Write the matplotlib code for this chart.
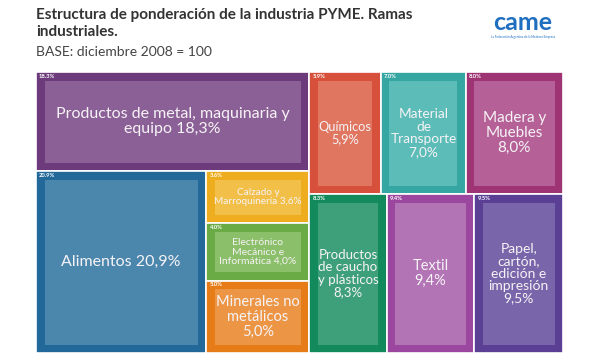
import matplotlib
matplotlib.use("Agg")
import matplotlib.pyplot as plt
from matplotlib.patches import Rectangle


# ─── Data ──────────────────────────────────────────────────────────────────────

RAMAS = [
    "Productos de metal, maquinaria y\nequipo",
    "Alimentos",
    "Calzado y\nMarroquinería",
    "Electrónico\nMecánico e\nInformática",
    "Minerales no\nmetálicos",
    "Químicos",
    "Material\nde\nTransporte",
    "Madera y\nMuebles",
    "Productos\nde caucho\ny plásticos",
    "Textil",
    "Papel,\ncartón,\nedición e\nimpresión",
]
PONDERACION = [18.3, 20.9, 3.6, 4.0, 5.0, 5.9, 7.0, 8.0, 8.3, 9.4, 9.5]

# how the blocks are nested (indices into RAMAS)
ARBOL = [[0, [1, [2, 3, 4]]], [[5, 6, 7], [8, 9, 10]]]

# ─── Style ─────────────────────────────────────────────────────────────────────

OUTER = ["#6d3b7b", "#22699a", "#eeac1f", "#6aab45", "#e57c17", "#d6503b",
         "#36a6a2", "#9e3474", "#138a5c", "#9c479f", "#5a3f94"]
INNER = ["#8b6096", "#4b86ad", "#f2c049", "#8cbf69", "#ec9645", "#e07560",
         "#5cbcb7", "#b56197", "#3ea07b", "#b274b5", "#7966aa"]
SEP = [" ", " ", " ", " ", "\n", "\n", "\n", "\n", "\n", "\n", "\n"]
FSIZE = [11.5, 11.5, 7.2, 7.5, 10.5, 9.2, 9.8, 11, 9.5, 10.5, 10]

X0, Y0, W, H = 36, 72, 527, 281
PAD = 8.5

plt.rcParams["font.family"] = ["Lato", "DejaVu Sans"]


def peso(nodo):
    if isinstance(nodo, int):
        return PONDERACION[nodo]
    return sum(peso(n) for n in nodo)


def dividir(nodo, x, y, w, h, horizontal, out):
    if isinstance(nodo, int):
        out[nodo] = (x, y, w, h)
        return
    total = peso(nodo)
    for hijo in nodo:
        f = peso(hijo) / total
        if horizontal:
            dividir(hijo, x, y, w * f, h, not horizontal, out)
            x += w * f
        else:
            dividir(hijo, x, y, w, h * f, not horizontal, out)
            y += h * f


rects = {}
dividir(ARBOL, X0, Y0, W, H, True, rects)

fig = plt.figure(figsize=(6, 3.6), dpi=100)
ax = fig.add_axes([0, 0, 1, 1])
ax.set_xlim(0, 600)
ax.set_ylim(360, 0)
ax.axis("off")

for i, (x, y, w, h) in rects.items():
    ax.add_patch(Rectangle((x, y), w, h, facecolor=OUTER[i],
                           edgecolor="white", linewidth=1.2))
    ax.add_patch(Rectangle((x + PAD, y + PAD), w - 2 * PAD, h - 2 * PAD,
                           facecolor=INNER[i], edgecolor="none"))
    ax.text(x + 3, y + 1.5, f"{PONDERACION[i]:.1f}%", color="white",
            fontsize=4.2, fontweight="bold", ha="left", va="top")
    valor = f"{PONDERACION[i]:.1f}".replace(".", ",") + "%"
    ax.text(x + w / 2, y + h / 2, RAMAS[i] + SEP[i] + valor,
            color="#f6f3f6", fontsize=FSIZE[i], ha="center", va="center",
            linespacing=1.05)

# title block
ax.text(36, 8, "Estructura de ponderación de la industria PYME. Ramas\n"
        "industriales.", fontsize=11, fontweight="bold", color="#333333",
        ha="left", va="top", linespacing=1.25)
ax.text(36, 46, "BASE: diciembre 2008 = 100", fontsize=10, color="#444444",
        ha="left", va="top")

# logo
ax.text(523, 22, "came", fontsize=18, fontweight="bold", color="#1f6fc0",
        ha="center", va="center")
ax.text(523, 37, "La Federación Argentina de la Mediana Empresa",
        fontsize=2.2, color="#1f6fc0", ha="center", va="center")

fig.savefig("out.png", dpi=100)
